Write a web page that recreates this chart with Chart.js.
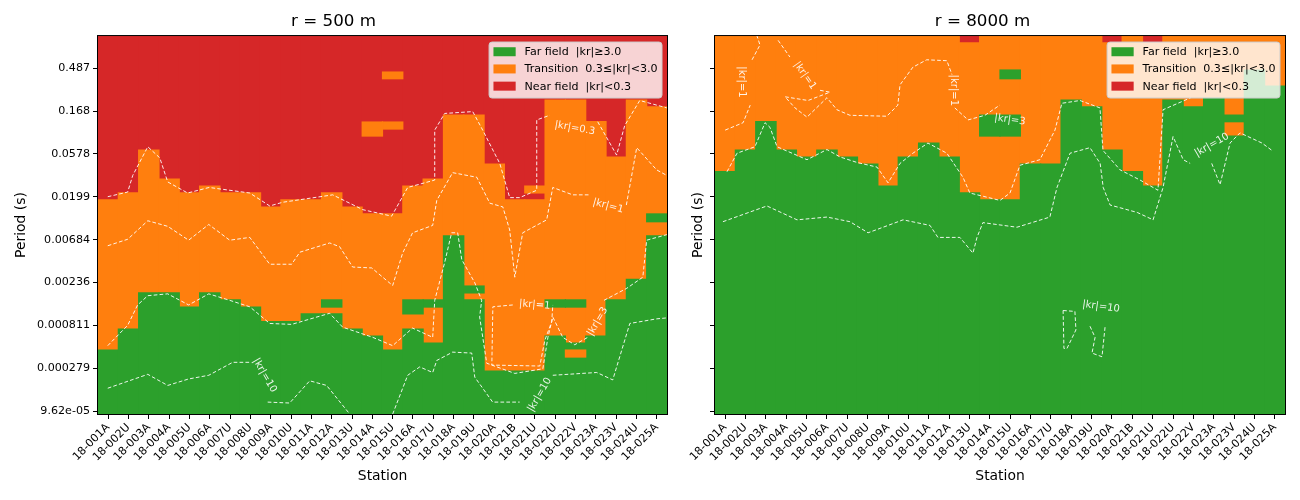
<!DOCTYPE html>
<html>
<head>
<meta charset="utf-8">
<script src="https://cdn.jsdelivr.net/npm/chart.js@4.4.1/dist/chart.umd.min.js"></script>
<style>
  body { margin: 0; background: #fff; }
  #wrap { position: relative; width: 1300px; height: 500px; }
  .panel { position: absolute; top: 0; height: 500px; }
</style>
</head>
<body>
<div id="wrap">
  <div class="panel" style="left:0;width:680px"><canvas id="chart500"></canvas></div>
  <div class="panel" style="left:680px;width:620px"><canvas id="chart8000"></canvas></div>
</div>
<script>
// stations along x, period ticks along y (log)
const stations = ['18-001A', '18-002U', '18-003A', '18-004A', '18-005U', '18-006A', '18-007U', '18-008U',
  '18-009A', '18-010U', '18-011A', '18-012A', '18-013U', '18-014A', '18-015U', '18-016A', '18-017U',
  '18-018A', '18-019U', '18-020A', '18-021B', '18-021U', '18-022U', '18-022V', '18-023A', '18-023V',
  '18-024U', '18-025A'];
const periodTicks = [9.62e-05, 0.000279, 0.000811, 0.00236, 0.00684, 0.0199, 0.0578, 0.168, 0.487];
const periodTickLabels = ['9.62e-05', '0.000279', '0.000811', '0.00236', '0.00684', '0.0199', '0.0578', '0.168', '0.487'];
const periodMin = 8.94e-05;
const periodMax = 1.088;

const fieldNames = ['Far field  |kr|\u22653.0', 'Transition  0.3\u2264|kr|<3.0', 'Near field  |kr|<0.3'];
const fieldColors = ['#2ca02c', '#ff7f0e', '#d62728'];

// r = 500 m : top of far field and bottom of near field (period, s)
const farTop500 = [0.000439, 0.000741, 0.00182, 0.00182, 0.00128, 0.00182, 0.00153, 0.00128, 0.000889,
  0.000889, 0.00108, 0.00108, 0.000741, 0.000622, 0.000439, 0.000741, 0.000523, 0.00755, 0.00153,
  0.00026, 0.00026, 0.00026, 0.000622, 0.000523, 0.000622, 0.00153, 0.00255, 0.00755];
const nearBottom500 = [0.0184, 0.0219, 0.0638, 0.031, 0.0219, 0.026, 0.0219, 0.0219, 0.0154, 0.0184,
  0.0184, 0.0219, 0.0154, 0.013, 0.013, 0.026, 0.031, 0.152, 0.152, 0.045, 0.0184, 0.0184, 0.221,
  0.221, 0.129, 0.0536, 0.221, 0.187];
// patches: [station index, low period, high period, field index]
const islands500 = [[11, 0.00128, 0.00153, 0], [15, 0.00108, 0.00153, 0], [16, 0.00128, 0.00153, 0],
  [18, 0.00182, 0.00216, 0], [22, 0.00128, 0.00153, 0], [23, 0.00128, 0.00153, 0],
  [27, 0.0107, 0.013, 0], [23, 0.000369, 0.000439, 1], [13, 0.0903, 0.128, 1],
  [14, 0.1075, 0.128, 1], [14, 0.376, 0.444, 1], [21, 0.0219, 0.026, 1]];

// |kr| contours, points are [station position, log10 period], null = gap
const kr03_500 = [[-0.02, -1.70], [0.96, -1.65], [1.21, -1.47], [1.95, -1.16], [2.54, -1.28], [2.93, -1.54],
  [3.91, -1.66], [4.97, -1.60], [6.97, -1.66], [7.95, -1.80], [8.59, -1.76], [11.05, -1.68], [12.53, -1.84],
  [13.95, -1.91], [14.74, -1.60], [16.07, -1.52], [16.07, -0.98], [16.56, -0.80], [17.94, -0.78],
  [18.43, -0.98], [19.27, -1.34], [19.76, -1.71], [20.25, -1.71], [21.09, -1.63], [21.09, -0.87],
  [21.73, -0.82], null, [24.09, -0.89], [25.02, -1.25], [25.42, -0.93], [26.16, -0.66], [27.49, -0.74]];
const kr1_500 = [[-0.02, -2.23], [0.96, -2.16], [1.95, -1.96], [2.93, -2.02], [3.96, -2.17], [4.95, -2.00],
  [5.98, -2.17], [6.97, -2.14], [7.95, -2.43], [9.03, -2.43], [9.43, -2.30], [10.9, -2.20], [11.39, -2.24],
  [12.03, -2.46], [12.97, -2.47], [14.0, -2.66], [14.49, -2.31], [14.98, -2.09], [15.97, -2.01],
  [16.17, -1.74], [16.95, -1.44], [18.14, -1.49], [18.78, -1.77], [19.42, -1.81], [19.76, -2.06],
  [20.01, -2.57], [20.4, -2.09], [21.58, -1.95], [21.88, -1.60], [22.86, -1.68], [23.7, -1.68], null,
  [25.5, -1.79], [26.01, -1.17], [26.99, -1.41], [27.49, -1.47]];
const kr1loop_500 = [[19.91, -2.87], [18.93, -2.89], [18.88, -3.52], [21.24, -3.53], [21.49, -3.25],
  [21.83, -3.05], [21.88, -2.87]];
const kr3_500 = [[-0.02, -3.31], [0.96, -3.09], [1.45, -2.87], [1.95, -2.77], [2.93, -2.75], [3.96, -2.87],
  [4.95, -2.75], [5.98, -2.82], [6.97, -2.89], [7.95, -3.07], [9.03, -3.08], [10.9, -2.96], [11.54, -3.11],
  [13.02, -3.22], [14.0, -3.31], [14.98, -3.12], [15.97, -3.22], [16.07, -2.82], [16.56, -2.41],
  [16.9, -2.09], [17.2, -2.09], [17.4, -2.38], [18.04, -2.63], [18.38, -2.82], [18.28, -3.00],
  [18.63, -3.50], [20.01, -3.61], [21.39, -3.56], [21.64, -3.22], [21.88, -3.00], [22.37, -3.22],
  [22.96, -3.30], [23.6, -3.22], null, [24.4, -2.82], [25.52, -2.69], [26.31, -2.57], [26.5, -2.17],
  [27.49, -2.11]];
const kr10_500 = [[-0.02, -3.77], [1.95, -3.62], [2.93, -3.74], [3.96, -3.67], [4.95, -3.63], [6.13, -3.49],
  [6.97, -3.49], null, [7.85, -3.92], [8.93, -3.93], [9.92, -3.69], [10.75, -3.74], [11.89, -4.05], null,
  [14.0, -4.05], [14.74, -3.63], [15.33, -3.54], [15.97, -3.60], [16.17, -3.47], [16.95, -3.38],
  [17.89, -3.39], [18.04, -3.65], [18.92, -3.92], [20.25, -3.92], null, [21.88, -3.63], [24.04, -3.60],
  [24.83, -3.68], [25.67, -3.07], [27.0, -3.02], [27.49, -3.01]];
// contour labels: [text, station position, log10 period, angle]
const krLabels500 = [['|kr|=0.3', 22.96, -0.96, 10], ['|kr|=1', 24.6, -1.8, 15], ['|kr|=1', 20.99, -2.87, 5],
  ['|kr|=3', 24.09, -3.05, -60], ['|kr|=10', 7.7, -3.63, 60], ['|kr|=10', 21.24, -3.84, -60]];

// r = 8000 m
const farTop8000 = [0.0372, 0.0638, 0.129, 0.0638, 0.0536, 0.0638, 0.0536, 0.045, 0.026, 0.0536, 0.0759,
  0.0536, 0.0219, 0.0184, 0.0184, 0.045, 0.045, 0.221, 0.187, 0.0638, 0.0372, 0.026, 0.221, 0.187,
  0.2325, 0.0903, 0.467, 0.313];
const nearBottom8000 = [null, null, null, null, null, null, null, null, null, null, null, null, 0.921, null,
  null, null, null, null, null, 0.921, null, 0.921, null, null, null, null, null, null];
const islands8000 = [[13, 0.0903, 0.152, 0], [14, 0.0903, 0.152, 0], [14, 0.376, 0.467, 0],
  [25, 0.129, 0.152, 0]];

const kr1_8000 = [[0.0, -0.98], [0.88, -0.90], [1.23, -0.71], null, [1.32, -0.22], [1.71, -0.06],
  [1.56, 0.04], null, [2.6, -0.01], [3.18, -0.19], null, [4.66, -0.55], [5.15, -0.57], [4.07, -0.66],
  [2.94, -0.62], [3.43, -0.74], [4.02, -0.84], [5.0, -0.63], [5.49, -0.76], [6.13, -0.82], [7.94, -0.83],
  [8.48, -0.71], [8.59, -0.49], [9.22, -0.30], [9.9, -0.22], [10.89, -0.23], [11.14, -0.38], null,
  [11.28, -0.74], [11.93, -0.87], [12.76, -0.82], [13.49, -0.71]];
const kr3_8000 = [[0.09, -1.43], [0.58, -1.23], [1.46, -1.16], [1.96, -0.90], [2.2, -0.95], [2.55, -1.16],
  [4.02, -1.30], [5.0, -1.19], [5.64, -1.27], [6.48, -1.33], [7.46, -1.38], [8.0, -1.55], [8.59, -1.34],
  [9.22, -1.23], [9.96, -1.12], [10.89, -1.23], [11.68, -1.49], [12.02, -1.66], [13.5, -1.74],
  [13.99, -1.66], [14.48, -1.36], [15.46, -1.30], [16.2, -0.98], [16.54, -0.69], [17.43, -0.66],
  [18.41, -0.74], [18.56, -1.20], [19.4, -1.41], [20.38, -1.52], [21.26, -1.63], [21.51, -0.76],
  [22.87, -0.63]];
const kr10_8000 = [[-0.11, -1.97], [2.05, -1.80], [3.53, -1.95], [5.0, -1.92], [6.13, -1.97], [7.02, -2.09],
  [8.74, -1.95], [10.06, -2.01], [10.45, -2.14], [11.53, -2.14], [12.17, -2.31], [12.37, -2.14],
  [12.66, -1.98], [14.33, -2.03], [15.95, -1.92], [16.3, -1.60], [16.94, -1.23], [17.92, -1.17],
  [18.42, -1.34], [18.57, -1.60], [18.91, -1.79], [20.24, -1.87], [21.02, -1.95], [21.51, -1.60],
  [22.0, -1.05], [22.5, -1.30], [22.84, -1.34], null, [23.9, -1.34], [24.31, -1.57], [24.8, -1.12],
  [25.29, -1.01], [26.37, -1.12], [26.86, -1.20]];
const kr10loopA_8000 = [[16.6, -2.93], [17.18, -2.94], [17.23, -3.14], [16.79, -3.34], [16.64, -3.34], [16.6, -2.93]];
const kr10loopB_8000 = [[17.92, -3.10], [18.17, -3.22], [18.02, -3.39], [18.51, -3.43], [18.66, -3.11]];
const krLabels8000 = [['|kr|=1', 0.83, -0.46, 90], ['|kr|=1', 3.92, -0.39, 55], ['|kr|=1', 11.2, -0.55, 90],
  ['|kr|=3', 13.99, -0.87, 8], ['|kr|=10', 23.91, -1.14, -30], ['|kr|=10', 18.46, -2.89, 8]];

Chart.defaults.font.family = "'DejaVu Sans', sans-serif";
Chart.defaults.color = '#000';

// far / transition / near columns, then the small patches on top
function fieldDatasets(farTop, nearBottom, islands) {
  const sets = [
    { label: fieldNames[0], data: farTop.map(v => [periodMin, v]), backgroundColor: fieldColors[0], order: 2 },
    { label: fieldNames[1], data: farTop.map((v, i) => [v, nearBottom[i] == null ? periodMax : nearBottom[i]]), backgroundColor: fieldColors[1], order: 2 },
    { label: fieldNames[2], data: nearBottom.map(v => v == null ? null : [v, periodMax]), backgroundColor: fieldColors[2], order: 2 }
  ];
  islands.forEach(([st, lo, hi, f]) => {
    sets.push({ label: '', data: stations.map((s, i) => i === st ? [lo, hi] : null), backgroundColor: fieldColors[f], order: 1 });
  });
  sets.forEach(d => Object.assign(d, { type: 'bar', grouped: false, barPercentage: 1, categoryPercentage: 1, borderWidth: 0, inflateAmount: 0.6 }));
  return sets;
}

function contourDataset(points) {
  let lastX = 0;
  return {
    type: 'line', label: '', xAxisID: 'xc', order: 0,
    data: points.map(p => {
      if (p) { lastX = p[0]; return { x: p[0], y: Math.pow(10, p[1]) }; }
      return { x: lastX, y: null };
    }),
    borderColor: 'rgba(255,255,255,0.9)', borderWidth: 1, borderDash: [3.7, 2.2],
    pointRadius: 0, fill: false, tension: 0, spanGaps: false
  };
}

const framePlugin = {
  id: 'frame',
  afterDatasetsDraw(chart) {
    const { ctx, chartArea: a } = chart;
    ctx.save();
    ctx.strokeStyle = '#000';
    ctx.lineWidth = 1;
    ctx.strokeRect(a.left - 0.5, a.top - 0.5, a.right - a.left + 1, a.bottom - a.top + 1);
    ctx.restore();
  }
};

const krLabelPlugin = {
  id: 'krLabels',
  afterDatasetsDraw(chart, args, opts) {
    const { ctx } = chart;
    const xs = chart.scales.xc, ys = chart.scales.y;
    ctx.save();
    ctx.font = "10px 'DejaVu Sans'";
    ctx.fillStyle = 'rgba(255,255,255,0.9)';
    ctx.textAlign = 'center';
    ctx.textBaseline = 'middle';
    (opts.items || []).forEach(([txt, x, logT, rot]) => {
      ctx.save();
      ctx.translate(xs.getPixelForValue(x), ys.getPixelForValue(Math.pow(10, logT)));
      ctx.rotate(rot * Math.PI / 180);
      ctx.fillText(txt, 0, 0);
      ctx.restore();
    });
    ctx.restore();
  }
};

// legend sits inside the plot, top right, like matplotlib's
const fieldLegendPlugin = {
  id: 'fieldLegend',
  afterDraw(chart) {
    const { ctx, chartArea } = chart;
    const items = chart.data.datasets.slice(0, 3);
    ctx.save();
    ctx.font = "11.1px 'DejaVu Sans'";
    const textW = Math.max(...items.map(d => ctx.measureText(d.label).width));
    const w = 4.4 + 22.2 + 8.9 + textW + 4.4, h = 56;
    const x = chartArea.right - 5 - w, y = chartArea.top + 6;
    ctx.beginPath();
    if (ctx.roundRect) ctx.roundRect(x, y, w, h, 3); else ctx.rect(x, y, w, h);
    ctx.fillStyle = 'rgba(255,255,255,0.8)';
    ctx.fill();
    ctx.strokeStyle = '#cccccc';
    ctx.lineWidth = 1;
    ctx.stroke();
    ctx.textBaseline = 'middle';
    items.forEach((d, k) => {
      const cy = y + 9.7 + k * 17.2;
      ctx.fillStyle = d.backgroundColor;
      ctx.fillRect(x + 4.4, cy - 4.5, 22.2, 9);
      ctx.fillStyle = '#000';
      ctx.fillText(d.label, x + 4.4 + 22.2 + 8.9, cy + 0.5);
    });
    ctx.restore();
  }
};

function makeChart(id, title, farTop, nearBottom, islands, contours, labels, isLeft) {
  const tickGrid = { display: true, drawOnChartArea: false, drawTicks: true, tickLength: 5, tickColor: '#000', tickWidth: 1, offset: false };
  return new Chart(document.getElementById(id), {
    type: 'bar',
    data: {
      labels: stations,
      datasets: fieldDatasets(farTop, nearBottom, islands).concat(contours.map(contourDataset))
    },
    options: {
      responsive: true,
      maintainAspectRatio: false,
      animation: false,
      events: [],
      layout: { padding: { left: 0, right: isLeft ? 13 : 15, top: 0, bottom: 0 } },
      plugins: {
        legend: { display: false },
        tooltip: { enabled: false },
        title: { display: true, text: title, color: '#000', font: { size: 16.7, weight: 'normal' }, padding: { top: 12, bottom: 4 } },
        krLabels: { items: labels }
      },
      scales: {
        x: {
          type: 'category',
          offset: true,
          grid: tickGrid,
          border: { display: false },
          ticks: { autoSkip: false, maxRotation: 45, minRotation: 45, font: { size: 11.1 }, color: '#000', padding: 2 },
          title: { display: true, text: 'Station', color: '#000', font: { size: 13.9 }, padding: { top: 15, bottom: 15 } },
          afterFit: s => { s.height = 86; }
        },
        xc: { type: 'linear', min: -0.5, max: 27.5, display: false, offset: false },
        y: {
          type: 'logarithmic',
          min: periodMin,
          max: periodMax,
          afterBuildTicks: s => { s.ticks = periodTicks.map(v => ({ value: v })); },
          grid: tickGrid,
          border: { display: false },
          ticks: { autoSkip: false, callback: (v, i) => isLeft ? periodTickLabels[i] : '', font: { size: 11.1 }, color: '#000', padding: 3 },
          title: { display: true, text: 'Period (s)', color: '#000', font: { size: 13.9 }, padding: { top: isLeft ? 13 : 10, bottom: 4 } },
          afterFit: s => { s.width = isLeft ? 98 : 35; }
        }
      }
    },
    plugins: [framePlugin, krLabelPlugin, fieldLegendPlugin]
  });
}

makeChart('chart500', 'r = 500 m', farTop500, nearBottom500, islands500,
  [kr03_500, kr1_500, kr1loop_500, kr3_500, kr10_500], krLabels500, true);
makeChart('chart8000', 'r = 8000 m', farTop8000, nearBottom8000, islands8000,
  [kr1_8000, kr3_8000, kr10_8000, kr10loopA_8000, kr10loopB_8000], krLabels8000, false);
</script>
</body>
</html>
